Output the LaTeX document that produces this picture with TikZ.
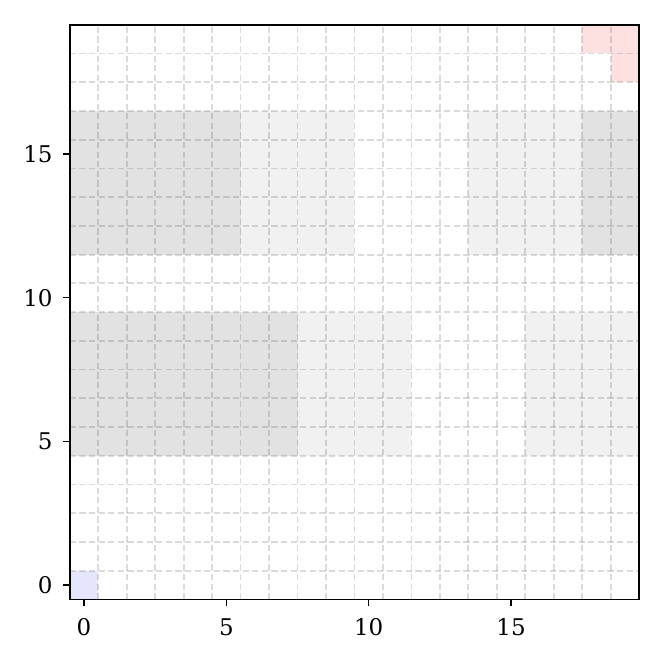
\documentclass[tikz,border=0pt]{standalone}
\usepackage{fontspec}
\setmainfont{DejaVu Serif}
\definecolor{darkcell}{HTML}{E2E2E2}
\definecolor{lightcell}{HTML}{F1F1F1}
\definecolor{bluecell}{HTML}{E5E5FD}
\definecolor{redcell}{HTML}{FDE1E1}
\tikzset{
  gridline/.style={draw=black, draw opacity=0.14, line width=1.8pt, dash pattern=on 6.2pt off 3.4pt},
  axisframe/.style={draw=black, line width=1.7pt},
  tickmark/.style={draw=black, line width=1.3pt},
  ticklabel/.style={inner sep=0pt, font=\fontsize{23}{27}\selectfont},
}
\begin{document}
\begin{tikzpicture}[x=1pt,y=1pt]
\useasboundingbox (0,0) rectangle (664,664);
\begin{scope}[shift={(84pt,79pt)}, x=28.47pt, y=28.73pt]
  \fill[darkcell] (-0.5,11.5) rectangle (5.5,16.5);
  \fill[lightcell] (5.5,11.5) rectangle (9.5,16.5);
  \fill[lightcell] (13.5,11.5) rectangle (17.5,16.5);
  \fill[darkcell] (17.5,11.5) rectangle (19.5,16.5);
  \fill[darkcell] (-0.5,4.5) rectangle (7.5,9.5);
  \fill[lightcell] (7.5,4.5) rectangle (11.5,9.5);
  \fill[lightcell] (15.5,4.5) rectangle (19.5,9.5);
  \fill[bluecell] (-0.5,-0.5) rectangle (0.5,0.5);
  \fill[redcell] (17.5,18.5) rectangle (19.5,19.5);
  \fill[redcell] (18.5,17.5) rectangle (19.5,18.5);
  \foreach \i in {0.5,1.5,...,18.5} {
    \draw[gridline] (\i,-0.5) -- (\i,19.5);
    \draw[gridline] (-0.5,\i) -- (19.5,\i);
  }
  \draw[axisframe] (-0.5,-0.5) rectangle (19.5,19.5);
  \foreach \t in {0,5,10,15} {
    \draw[tickmark] (\t,-0.5) -- ++(0,-7pt) coordinate (xt\t);
    \node[ticklabel, anchor=north] (xl\t) at ([yshift=-12pt]xt\t) {\t};
    \draw[tickmark] (-0.5,\t) -- ++(-7pt,0) coordinate (yt\t);
    \node[ticklabel, anchor=east] (yl\t) at ([xshift=-10pt]yt\t) {\t};
  }
\end{scope}
\end{tikzpicture}
\end{document}
